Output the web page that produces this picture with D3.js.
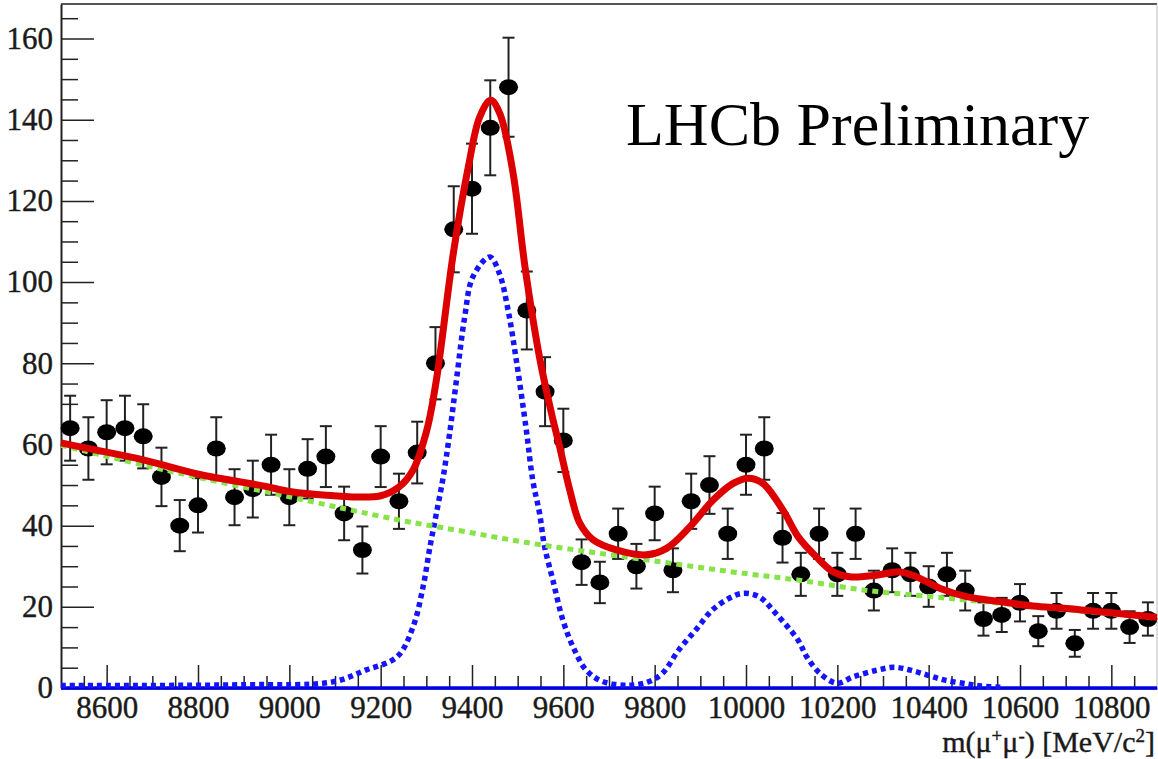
<!DOCTYPE html>
<html>
<head>
<meta charset="utf-8">
<script src="https://cdn.jsdelivr.net/npm/d3@7"></script>
<style>
    body { margin: 0; background: #fff; }
    svg { display: block; }
    text { font-family: "Liberation Serif", "DejaVu Serif", serif; }
</style>
</head>
<body>
<svg id="chart" width="1158" height="759"></svg>
<script>
// bin centres (40 MeV bins) and counts
const binMass = [
    8520, 8560, 8600, 8640, 8680, 8720, 8760, 8800, 8840, 8880,
    8920, 8960, 9000, 9040, 9080, 9120, 9160, 9200, 9240, 9280,
    9320, 9360, 9400, 9440, 9480, 9520, 9560, 9600, 9640, 9680,
    9720, 9760, 9800, 9840, 9880, 9920, 9960, 10000, 10040, 10080,
    10120, 10160, 10200, 10240, 10280, 10320, 10360, 10400, 10440, 10480,
    10520, 10560, 10600, 10640, 10680, 10720, 10760, 10800, 10840, 10880
];
const binCounts = [
    64, 59, 63, 64, 62, 52, 40, 45, 59, 47,
    49, 55, 47, 54, 57, 43, 34, 57, 46, 58,
    80, 113, 123, 138, 148, 93, 73, 61, 31, 26,
    38, 30, 43, 29, 46, 50, 38, 55, 59, 37,
    28, 38, 28, 38, 24, 29, 28, 25, 28, 24,
    17, 18, 21, 14, 19, 11, 19, 19, 15, 17
];
const binErrors = [
    8.0, 7.7, 7.9, 8.0, 7.9, 7.2, 6.3, 6.7, 7.7, 6.9,
    7.0, 7.4, 6.9, 7.3, 7.5, 6.6, 5.8, 7.5, 6.8, 7.6,
    8.9, 10.6, 11.1, 11.7, 12.2, 9.6, 8.5, 7.8, 5.6, 5.1,
    6.2, 5.5, 6.6, 5.4, 6.8, 7.1, 6.2, 7.4, 7.7, 6.1,
    5.3, 6.2, 5.3, 6.2, 4.9, 5.4, 5.3, 5.0, 5.3, 4.9,
    4.1, 4.2, 4.6, 3.7, 4.4, 3.3, 4.4, 4.4, 3.9, 4.1
];

// total fit (red)
const fitMass = [8500, 8560, 8680, 8804, 8942, 9001, 9082, 9198, 9240, 9271,
    9301, 9322, 9359, 9392, 9417, 9441, 9461, 9490, 9516, 9549,
    9574, 9592, 9614, 9636, 9665, 9716, 9782, 9826, 9877, 9928,
    9972, 10005, 10037, 10081, 10114, 10154, 10191, 10227, 10286, 10337,
    10373, 10424, 10483, 10556, 10628, 10702, 10774, 10847, 10900];
const fitTotal = [60.4, 59.0, 56.2, 52.6, 49.8, 48.4, 47.5, 47.3, 49.5, 53.7,
    63.5, 75.9, 107, 128.4, 140.7, 144.8, 141.5, 126.8, 103.8, 80.8,
    67.7, 59.4, 48.8, 40.6, 36.5, 34.0, 32.8, 34.4, 39.7, 46.3,
    50.4, 51.7, 50.4, 43.8, 37.3, 32.3, 28.6, 27.4, 27.8, 28.6,
    27.4, 24.6, 22.5, 21.3, 20.2, 19.6, 18.8, 18.0, 17.4];

// background (green dashed)
const bkgMass = [8500, 8720, 9000, 9240, 9386, 9532, 9678, 9824, 9970, 10113,
    10260, 10406, 10480, 10700, 10900];
const bkgValue = [59.8, 53.9, 47.1, 41.4, 38.5, 35.6, 33.2, 30.9, 28.6, 26.6,
    24.1, 22.5, 21.7, 19.3, 17.2];

// signal peaks (blue dotted)
const sigMass = [8500, 8900, 9095, 9167, 9236, 9271, 9293, 9308, 9322, 9337,
    9351, 9366, 9384, 9402, 9439, 9460, 9479, 9497, 9519, 9533,
    9548, 9559, 9577, 9599, 9621, 9650, 9686, 9745, 9788, 9817,
    9853, 9890, 9926, 9963, 9992, 10028, 10065, 10114, 10133, 10162,
    10199, 10236, 10287, 10324, 10360, 10397, 10433, 10484, 10514, 10560];
const sigValue = [0.6, 0.8, 1.5, 4.4, 7.7, 15.1, 25.0, 34.8, 43.0, 52.0,
    62.7, 75.9, 91.4, 101.3, 106.2, 102.1, 93.1, 80.8, 63.5, 51.2,
    43.0, 34.8, 26.6, 16.7, 10.2, 4.4, 1.6, 0.7, 1.6, 3.6,
    9.4, 14.3, 19.2, 22.1, 23.3, 22.5, 18.4, 11.8, 7.7, 3.6,
    1.2, 2.8, 4.4, 5.1, 4.4, 3.2, 2.0, 1.0, 0.5, 0.2];

const majorX = [8600, 8800, 9000, 9200, 9400, 9600, 9800, 10000, 10200, 10400, 10600, 10800];
const majorY = [0, 20, 40, 60, 80, 100, 120, 140, 160];

const plotLeft = 61, plotRight = 1157, plotTop = 4, plotBottom = 688;

const svg = d3.select("#chart");
svg.append("rect").attr("width", 1158).attr("height", 759).attr("fill", "#fff");

const x = d3.scaleLinear().domain([8500, 10900]).range([plotLeft, plotRight]);
const y = d3.scaleLinear().domain([0, 168.5]).range([plotBottom, plotTop]);

// frame
svg.append("line")
    .attr("x1", plotLeft).attr("x2", plotRight).attr("y1", plotTop).attr("y2", plotTop)
    .attr("stroke", "#555").attr("stroke-width", 2);
svg.append("line")
    .attr("x1", plotRight).attr("x2", plotRight).attr("y1", plotTop).attr("y2", plotBottom)
    .attr("stroke", "#bbb").attr("stroke-width", 1);

// minor ticks
const minorX = d3.range(8550, 10900, 50).filter(v => !majorX.includes(v));
const minorY = d3.range(5, 168, 5).filter(v => !majorY.includes(v));

svg.append("g")
    .attr("transform", `translate(0,${plotBottom})`)
    .call(d3.axisBottom(x).tickValues(minorX).tickSize(-12).tickFormat(""))
    .call(g => g.select(".domain").remove())
    .selectAll("line").attr("stroke", "#222").attr("stroke-width", 1.5);

svg.append("g")
    .attr("transform", `translate(${plotLeft},0)`)
    .call(d3.axisLeft(y).tickValues(minorY).tickSize(-17).tickFormat(""))
    .call(g => g.select(".domain").remove())
    .selectAll("line").attr("stroke", "#222").attr("stroke-width", 1.5);

// major axes
const xAxis = svg.append("g")
    .attr("transform", `translate(0,${plotBottom})`)
    .call(d3.axisBottom(x).tickValues(majorX).tickSizeInner(-23).tickSizeOuter(0)
        .tickPadding(8).tickFormat(d3.format("d")));
xAxis.select(".domain").attr("stroke", "#111").attr("stroke-width", 2);
xAxis.selectAll(".tick line").attr("stroke", "#222").attr("stroke-width", 1.5);
xAxis.selectAll("text").attr("font-size", 31).attr("fill", "#1a1a1a")
    .attr("stroke", "#1a1a1a").attr("stroke-width", 0.4)
    .style("font-family", "Liberation Serif");

const yAxis = svg.append("g")
    .attr("transform", `translate(${plotLeft},0)`)
    .call(d3.axisLeft(y).tickValues(majorY).tickSizeInner(-33).tickSizeOuter(0)
        .tickPadding(8).tickFormat(d3.format("d")));
yAxis.select(".domain").attr("stroke", "#222").attr("stroke-width", 2);
yAxis.selectAll(".tick line").attr("stroke", "#222").attr("stroke-width", 1.5);
yAxis.selectAll("text").attr("font-size", 31).attr("fill", "#1a1a1a")
    .attr("stroke", "#1a1a1a").attr("stroke-width", 0.4)
    .style("font-family", "Liberation Serif");

// data points with error bars
const points = binMass.map((m, i) => ({ m: m, n: binCounts[i], e: binErrors[i] }));

const pts = svg.append("g").selectAll("g")
    .data(points)
    .enter().append("g");

pts.append("line")
    .attr("x1", d => x(d.m)).attr("x2", d => x(d.m))
    .attr("y1", d => y(d.n + d.e)).attr("y2", d => y(d.n - d.e))
    .attr("stroke", "#222").attr("stroke-width", 2);
pts.append("line")
    .attr("x1", d => x(d.m) - 6).attr("x2", d => x(d.m) + 6)
    .attr("y1", d => y(d.n + d.e)).attr("y2", d => y(d.n + d.e))
    .attr("stroke", "#222").attr("stroke-width", 2);
pts.append("line")
    .attr("x1", d => x(d.m) - 6).attr("x2", d => x(d.m) + 6)
    .attr("y1", d => y(d.n - d.e)).attr("y2", d => y(d.n - d.e))
    .attr("stroke", "#222").attr("stroke-width", 2);
pts.append("ellipse")
    .attr("cx", d => x(d.m)).attr("cy", d => y(d.n))
    .attr("rx", 9.5).attr("ry", 8)
    .attr("fill", "#000");

// curves
const line = d3.line()
    .x(d => x(d[0]))
    .y(d => y(d[1]))
    .curve(d3.curveCatmullRom);

// zero line in blue
svg.append("line")
    .attr("x1", plotLeft).attr("x2", plotRight).attr("y1", y(0)).attr("y2", y(0))
    .attr("stroke", "#0000e8").attr("stroke-width", 3.5);

svg.append("path")
    .datum(sigMass.map((m, i) => [m, sigValue[i]]))
    .attr("d", line)
    .attr("fill", "none")
    .attr("stroke", "#1414ff")
    .attr("stroke-width", 5.5)
    .attr("stroke-dasharray", "5 4");

svg.append("path")
    .datum(bkgMass.map((m, i) => [m, bkgValue[i]]))
    .attr("d", line)
    .attr("fill", "none")
    .attr("stroke", "#86e34a")
    .attr("stroke-width", 5)
    .attr("stroke-dasharray", "6 5");

svg.append("path")
    .datum(fitMass.map((m, i) => [m, fitTotal[i]]))
    .attr("d", line)
    .attr("fill", "none")
    .attr("stroke", "#dd0000")
    .attr("stroke-width", 7)
    .attr("stroke-linejoin", "round");

// labels
svg.append("text")
    .attr("x", 626).attr("y", 145)
    .attr("font-size", 62)
    .attr("fill", "#000")
    .text("LHCb Preliminary");

const title = svg.append("text")
    .attr("x", 1155).attr("y", 752)
    .attr("text-anchor", "end")
    .attr("font-size", 30)
    .attr("fill", "#1a1a1a")
    .attr("stroke", "#1a1a1a").attr("stroke-width", 0.4);
title.append("tspan").text("m(μ");
title.append("tspan").attr("baseline-shift", "super").attr("font-size", 19).text("+");
title.append("tspan").text("μ");
title.append("tspan").attr("baseline-shift", "super").attr("font-size", 19).text("-");
title.append("tspan").text(") [MeV/c");
title.append("tspan").attr("baseline-shift", "super").attr("font-size", 19).text("2");
title.append("tspan").text("]");
</script>
</body>
</html>
